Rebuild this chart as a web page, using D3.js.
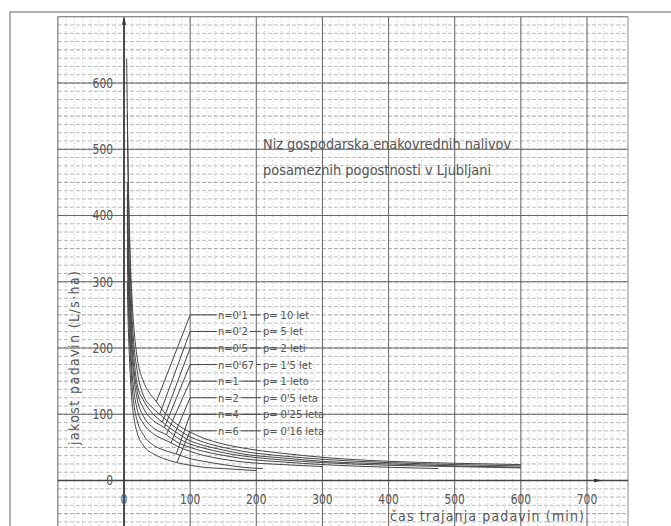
<!DOCTYPE html>
<html>
<head>
<meta charset="utf-8">
<script src="https://cdn.jsdelivr.net/npm/d3@7"></script>
<style>
  body { margin: 0; background: #fff; }
  text { font-family: "DejaVu Sans Condensed", "Liberation Sans Narrow", sans-serif; font-stretch: condensed; fill: #555; }
</style>
</head>
<body>
<div id="chart"></div>
<script>
// tick labels
var xTicks = [0, 100, 200, 300, 400, 500, 600, 700];
var yTicks = [0, 100, 200, 300, 400, 500, 600];

// legend: frequency n and return period p
var freqN = ["0'1", "0'2", "0'5", "0'67", "1", "2", "4", "6"];
var periodP = ["10 let", "5 let", "2 leti", "1'5 let", "1 leto", "0'5 leta", "0'25 leta", "0'16 leta"];
var labelLevel = [250, 225, 200, 175, 150, 125, 100, 75];
var leaderT = [49, 54, 58, 61, 64, 71, 79, 80];

// curves, [duration min, intensity L/s ha]
var curveN01 = [[4,636],[5,560],[6,490],[8,390],[10,320],[12,275],[15,230],[20,185],[30,148],[40,130],[49,119],[60,104],[80,85],[100,73],[120,64],[150,55],[180,49],[240,41],[300,35],[400,29],[500,26],[600,24]];
var curveN02 = [[5,553],[6,470],[8,370],[10,300],[12,250],[15,205],[20,165],[30,127],[40,113],[54,100],[70,86],[100,66],[120,58],[150,50],[180,44],[240,37],[300,32],[400,27],[500,24],[600,22]];
var curveN05 = [[5,450],[6,390],[8,320],[10,265],[12,225],[15,185],[20,145],[30,120],[40,105],[58,88],[80,72],[100,60],[120,53],[150,46],[180,40],[240,34],[300,29],[400,25],[500,22],[600,20]];
var curveN067 = [[5,430],[6,370],[8,300],[10,245],[12,205],[15,168],[20,135],[30,108],[45,90],[61,80],[80,65],[100,55],[120,49],[150,42],[180,37],[240,31],[300,27],[400,23],[500,21],[600,19]];
var curveN1 = [[5,410],[6,345],[8,275],[10,225],[12,190],[15,155],[20,123],[30,96],[45,79],[64,69],[80,58],[100,50],[120,44],[150,38],[180,33],[240,28],[300,24],[400,20],[475,18]];
var curveN2 = [[5,390],[6,320],[8,250],[10,200],[12,165],[15,135],[20,107],[30,85],[45,70],[60,62],[71,57],[80,52],[100,44],[120,38],[150,32],[180,28],[240,24],[300,21]];
var curveN4 = [[5,350],[6,290],[8,225],[10,180],[12,145],[15,115],[20,90],[30,68],[45,53],[60,46],[79,40],[100,33],[120,29],[150,24],[180,20],[210,18]];
var curveN6 = [[5,300],[6,250],[8,190],[10,150],[12,120],[15,95],[20,72],[30,52],[45,40],[60,33],[80,27],[100,23],[120,20],[150,18],[200,15]];

var curves = [curveN01, curveN02, curveN05, curveN067, curveN1, curveN2, curveN4, curveN6];

var W = 671, H = 526;
var svg = d3.select("#chart").append("svg")
    .attr("width", W).attr("height", H);

var x = d3.scaleLinear().domain([0, 700]).range([124, 587]);
var y = d3.scaleLinear().domain([0, 600]).range([480.5, 83]);

// grid paper edges
var gxMin = -100, gxMax = x.invert(628);
var gyMin = y.invert(H), gyMax = 700;

// outer frame
svg.append("path")
    .attr("d", "M10," + H + "V12H" + W)
    .attr("fill", "none").attr("stroke", "#999").attr("stroke-width", 1.5);

var grid = svg.append("g");

// minor grid
grid.selectAll(".vmin").data(d3.range(gxMin, gxMax, 12.5)).enter().append("line")
    .attr("x1", function (d) { return x(d); }).attr("x2", function (d) { return x(d); })
    .attr("y1", y(gyMax)).attr("y2", H)
    .attr("stroke", "#aaa").attr("stroke-width", 0.7).attr("stroke-dasharray", "1,2.5");

grid.selectAll(".hmin").data(d3.range(-62.5, gyMax, 12.5)).enter().append("line")
    .attr("x1", x(gxMin)).attr("x2", x(gxMax))
    .attr("y1", function (d) { return y(d); }).attr("y2", function (d) { return y(d); })
    .attr("stroke", function (d) { return d % 50 === 0 ? "#888" : "#aaa"; })
    .attr("stroke-width", 0.8).attr("stroke-dasharray", "4,2");

// major grid
grid.selectAll(".vmaj").data(d3.range(-100, 701, 100)).enter().append("line")
    .attr("x1", function (d) { return x(d); }).attr("x2", function (d) { return x(d); })
    .attr("y1", y(gyMax)).attr("y2", H)
    .attr("stroke", "#666").attr("stroke-width", 1);

grid.selectAll(".hmaj").data(d3.range(0, 701, 100)).enter().append("line")
    .attr("x1", x(gxMin)).attr("x2", x(gxMax))
    .attr("y1", function (d) { return y(d); }).attr("y2", function (d) { return y(d); })
    .attr("stroke", "#666").attr("stroke-width", 1);

grid.append("line")
    .attr("x1", x(gxMax)).attr("x2", x(gxMax)).attr("y1", y(gyMax)).attr("y2", H)
    .attr("stroke", "#888").attr("stroke-width", 1);

// axes with arrows
svg.append("line")
    .attr("x1", x(0)).attr("x2", x(0)).attr("y1", H).attr("y2", y(gyMax) + 2)
    .attr("stroke", "#333").attr("stroke-width", 1.6);
svg.append("path")
    .attr("d", "M" + x(0) + "," + y(gyMax) + "l-2,8h4z").attr("fill", "#333");

svg.append("line")
    .attr("x1", x(gxMin)).attr("x2", x(gxMax)).attr("y1", y(0)).attr("y2", y(0))
    .attr("stroke", "#444").attr("stroke-width", 1.4);
svg.append("path")
    .attr("d", "M" + (x(715) + 6) + "," + y(0) + "l-9,-1.8v3.6z").attr("fill", "#333");

// tick labels
svg.selectAll(".ylab").data(yTicks).enter().append("text")
    .attr("x", x(0) - 11).attr("y", function (d) { return y(d) + 5; })
    .attr("text-anchor", "end").style("font-size", "14px")
    .attr("transform", function (d) { return "translate(" + (x(0) - 11) * 0.15 + ",0) scale(0.85,1)"; })
    .text(function (d) { return d; });

svg.selectAll(".xlab").data(xTicks).enter().append("text")
    .attr("x", function (d) { return x(d); }).attr("y", y(0) + 24)
    .attr("text-anchor", "middle").style("font-size", "14px")
    .attr("transform", function (d) { return "translate(" + x(d) * 0.15 + ",0) scale(0.85,1)"; })
    .text(function (d) { return d; });

// axis titles
svg.append("text")
    .attr("transform", "translate(79,358) rotate(-90)")
    .attr("text-anchor", "middle").style("font-size", "14px")
    .attr("textLength", 174).attr("lengthAdjust", "spacing")
    .text("jakost padavin  (L/s·ha)");

svg.append("text")
    .attr("x", 390).attr("y", 521).style("font-size", "14px")
    .attr("textLength", 194).attr("lengthAdjust", "spacing")
    .text("čas trajanja padavin  (min)");

// title
svg.append("text")
    .attr("x", 263).attr("y", 149).style("font-size", "14px")
    .attr("textLength", 248).attr("lengthAdjust", "spacingAndGlyphs")
    .text("Niz gospodarska enakovrednih nalivov");
svg.append("text")
    .attr("x", 263).attr("y", 175).style("font-size", "14px")
    .attr("textLength", 228).attr("lengthAdjust", "spacingAndGlyphs")
    .text("posameznih pogostnosti v Ljubljani");

// curves
var line = d3.line()
    .x(function (d) { return x(d[0]); })
    .y(function (d) { return y(d[1]); })
    .curve(d3.curveMonotoneX);

svg.selectAll(".curve").data(curves).enter().append("path")
    .attr("d", line)
    .attr("fill", "none").attr("stroke", "#444").attr("stroke-width", 1);

// value on a curve at duration t
function valueAt(c, t) {
  for (var i = 1; i < c.length; i++) {
    if (c[i][0] >= t) {
      var f = (t - c[i - 1][0]) / (c[i][0] - c[i - 1][0]);
      return c[i - 1][1] + f * (c[i][1] - c[i - 1][1]);
    }
  }
  return c[c.length - 1][1];
}

// legend with leaders
var leg = svg.selectAll(".leg").data(freqN).enter().append("g");

leg.append("path")
    .attr("d", function (d, i) {
      return "M" + x(leaderT[i]) + "," + y(valueAt(curves[i], leaderT[i])) +
        "L" + x(100) + "," + y(labelLevel[i]) + "H" + x(140);
    })
    .attr("fill", "none").attr("stroke", "#444").attr("stroke-width", 1);

leg.append("text")
    .attr("class", "nlab")
    .attr("x", x(142)).attr("y", function (d, i) { return y(labelLevel[i]) + 4; })
    .style("font-size", "11px")
    .text(function (d) { return "n=" + d; });

leg.append("text")
    .attr("x", x(210)).attr("y", function (d, i) { return y(labelLevel[i]) + 4; })
    .style("font-size", "11px")
    .text(function (d, i) { return "p= " + periodP[i]; });

leg.each(function (d, i) {
  var t = d3.select(this).select(".nlab").node();
  var x1 = t.getBBox().x + t.getBBox().width + 2;
  d3.select(this).append("line")
    .attr("x1", x1).attr("x2", x(210) - 2)
    .attr("y1", y(labelLevel[i])).attr("y2", y(labelLevel[i]))
    .attr("stroke", "#444").attr("stroke-width", 1);
});
</script>
</body>
</html>
